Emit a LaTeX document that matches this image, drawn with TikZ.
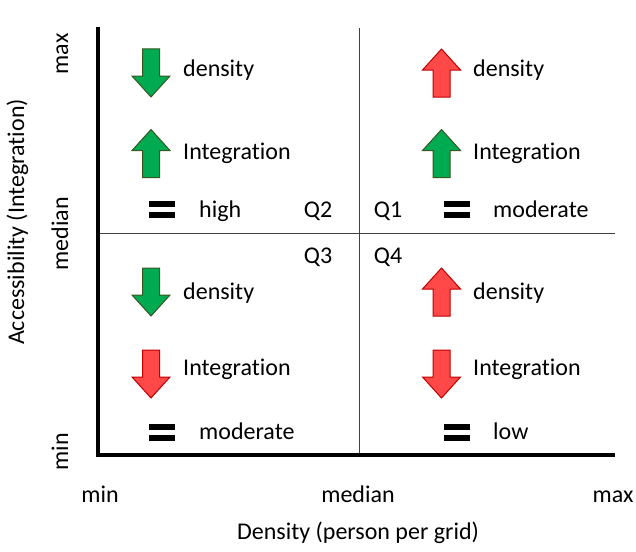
\documentclass[tikz,border=0pt]{standalone}
\usepackage{fontspec}
\setmainfont{Carlito}[Ligatures=NoCommon]
\definecolor{upgreen}{RGB}{0,170,80}
\definecolor{upgreenline}{RGB}{56,87,35}
\definecolor{dnred}{RGB}{255,72,72}
\definecolor{dnredline}{RGB}{192,0,0}
\tikzset{
  uparr/.pic={\draw[line width=1pt,pic actions] (-8.5,24) -- (8.5,24) -- (8.5,-3) -- (19,-3) -- (0,-24) -- (-19,-3) -- (-8.5,-3) -- cycle;},
  dnarr/.pic={\draw[line width=1pt,pic actions] (-8.5,-24) -- (8.5,-24) -- (8.5,3) -- (19,3) -- (0,24) -- (-19,3) -- (-8.5,3) -- cycle;},
  same/.pic={\fill (-13,-8.5) rectangle (13,-2.5); \fill (-13,2.5) rectangle (13,8.5);}
}
\begin{document}
\begin{tikzpicture}[x=1pt,y=-1pt,
    txt/.style={inner sep=0pt,text height=17pt,text depth=5pt,font=\fontsize{24}{29}\selectfont},
    lbl/.style={txt,anchor=west},
    good/.style={fill=upgreen,draw=upgreenline},
    bad/.style={fill=dnred,draw=dnredline}]
  \useasboundingbox (0,0) rectangle (636,551);
  % axes and medians
  \coordinate (top) at (98,27);
  \coordinate (orig) at (98,455);
  \coordinate (right) at (615,455);
  \draw[line width=0.9pt,black!75] (359,28) -- (359,455);
  \draw[line width=0.9pt,black!75] (98,233) -- (615,233);
  \draw[line width=4pt] (top) -- (orig) -- (right);
  % x axis
  \node[txt] (xmin) at (100,496) {min};
  \node[txt] (xmed) at (358,496) {median};
  \node[txt] (xmax) at (613,496) {max};
  \node[txt] (xlab) at (358,533) {Density (person per grid)};
  % y axis
  \node[txt,rotate=90] (ymin) at (62,452) {min};
  \node[txt,rotate=90] (ymed) at (62,234) {median};
  \node[txt,rotate=90] (ymax) at (62,54) {max};
  \node[txt,rotate=90] (ylab) at (18,222) {Accessibility (Integration)};
  % quadrant names
  \node[txt] (q2) at (318,211) {Q2};
  \node[txt] (q1) at (388,211) {Q1};
  \node[txt] (q3) at (318,257) {Q3};
  \node[txt] (q4) at (388,257) {Q4};
  % Q2
  \pic[good] at (151,73) {dnarr};
  \node[lbl] (d2) at (183,70) {density};
  \pic[good] at (151,153.5) {uparr};
  \node[lbl] (i2) at (183,153) {Integration};
  \pic at (162,209) {same};
  \node[lbl] (r2) at (199,211) {high};
  % Q1
  \pic[bad] at (441.5,73) {uparr};
  \node[lbl] (d1) at (473,70) {density};
  \pic[good] at (441.5,153.5) {uparr};
  \node[lbl] (i1) at (473,153) {Integration};
  \pic at (456.5,209) {same};
  \node[lbl] (r1) at (493,211) {moderate};
  % Q3
  \pic[good] at (151,292) {dnarr};
  \node[lbl] (d3) at (183,293) {density};
  \pic[bad] at (151,374) {dnarr};
  \node[lbl] (i3) at (183,369) {Integration};
  \pic at (162,432) {same};
  \node[lbl] (r3) at (199,433) {moderate};
  % Q4
  \pic[bad] at (441.5,292) {uparr};
  \node[lbl] (d4) at (473,293) {density};
  \pic[bad] at (441.5,374) {dnarr};
  \node[lbl] (i4) at (473,369) {Integration};
  \pic at (456.5,432) {same};
  \node[lbl] (r4) at (493,433) {low};
\end{tikzpicture}
\end{document}
